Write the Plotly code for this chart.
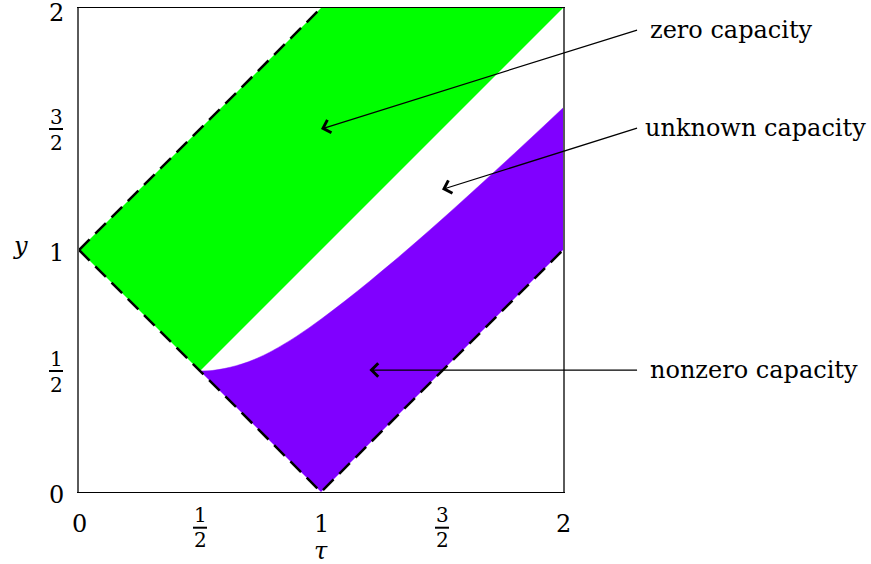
import plotly.graph_objects as go

# ---- region data (tau on x, y on y) ----
zero_tau = [0, 1, 2, 0.5, 0]
zero_y = [1, 2, 2, 0.5, 1]

# lower dashed boundary of the nonzero region
lower_tau = [0.5, 1, 2]
lower_y = [0.5, 0, 1]

# curved upper boundary of the nonzero region, from (1/2, 1/2) to tau = 2
curve_tau = [0.50, 0.55, 0.60, 0.65, 0.70, 0.75, 0.80, 0.90, 1.00, 1.10, 1.20,
             1.30, 1.40, 1.50, 1.60, 1.70, 1.80, 1.90, 2.00]
curve_y = [0.500, 0.502, 0.510, 0.522, 0.538, 0.559, 0.584, 0.644, 0.714, 0.790, 0.870,
           0.953, 1.039, 1.127, 1.217, 1.308, 1.400, 1.493, 1.587]

# dashed boundary lines
dash_top_tau = [0, 1]
dash_top_y = [1, 2]
dash_bot_tau = [0, 0.5, 1, 2]
dash_bot_y = [1, 0.5, 0, 1]

# tick labels: (value, numerator, denominator or None)
ticks = [(0, "0", None), (0.5, "1", "2"), (1, "1", None), (1.5, "3", "2"), (2, "2", None)]

# callouts: label, head (tau, y), tail (tau, y), padding
callouts = [
    ("zero capacity", (1.0, 1.5), (2.306, 1.909), 12),
    ("unknown capacity", (1.5, 1.25), (2.306, 1.504), 7),
    ("nonzero capacity", (1.2, 0.504), (2.306, 0.504), 12),
]

FONT = "DejaVu Serif"
GREEN = "#00ff00"
PURPLE = "#8000ff"

fig = go.Figure()

fig.add_trace(go.Scatter(x=zero_tau, y=zero_y, mode="lines", fill="toself",
                         fillcolor=GREEN, line=dict(width=0, color=GREEN),
                         hoverinfo="skip", showlegend=False))

# nonzero region: filled between the lower boundary and the smooth upper curve
fig.add_trace(go.Scatter(x=lower_tau, y=lower_y, mode="lines",
                         line=dict(width=0, color=PURPLE),
                         hoverinfo="skip", showlegend=False))
fig.add_trace(go.Scatter(x=curve_tau, y=curve_y, mode="lines", fill="tonexty",
                         fillcolor=PURPLE,
                         line=dict(width=0.5, color=PURPLE, shape="spline", smoothing=1),
                         hoverinfo="skip", showlegend=False))

for tx, ty in [(dash_top_tau, dash_top_y), (dash_bot_tau, dash_bot_y)]:
    fig.add_trace(go.Scatter(x=tx, y=ty, mode="lines",
                             line=dict(color="black", width=2.5, dash="15px,8px"),
                             hoverinfo="skip", showlegend=False))

annotations = []
shapes = []
PLOT_PX = 484.0

for val, num, den in ticks:
    if den is None:
        # x-axis integer label
        annotations.append(dict(x=val, xref="x", y=0, yref="paper", text=num,
                                showarrow=False, yanchor="middle", yshift=-32,
                                font=dict(family=FONT, size=24, color="black")))
        # y-axis integer label (top one nudged to stay inside the page)
        annotations.append(dict(x=0, xref="paper", y=val, yref="y", text=num,
                                showarrow=False, xanchor="center", xshift=-23,
                                yshift=-5 if val == 2 else -3, borderpad=0,
                                font=dict(family=FONT, size=24, color="black")))
    else:
        for shift, t in [(-23, num), (-48, den)]:
            annotations.append(dict(x=val, xref="x", y=0, yref="paper", text=t,
                                    showarrow=False, yanchor="middle", yshift=shift,
                                    font=dict(family=FONT, size=20, color="black")))
        shapes.append(dict(type="line", xref="x", yref="paper",
                           x0=val - 0.029, x1=val + 0.029,
                           y0=-35.7 / PLOT_PX, y1=-35.7 / PLOT_PX,
                           line=dict(color="black", width=2)))
        for shift, t in [(12, num), (-14, den)]:
            annotations.append(dict(x=0, xref="paper", y=val, yref="y", text=t,
                                    showarrow=False, xanchor="center", xshift=-23,
                                    yshift=shift,
                                    font=dict(family=FONT, size=20, color="black")))
        shapes.append(dict(type="line", xref="paper", yref="y",
                           x0=-30 / PLOT_PX, x1=-16 / PLOT_PX,
                           y0=val, y1=val,
                           line=dict(color="black", width=2)))

# axis titles
annotations.append(dict(x=1, xref="x", y=0, yref="paper", text="<i>τ</i>",
                        showarrow=False, yanchor="middle", yshift=-59,
                        font=dict(family=FONT, size=24, color="black")))
annotations.append(dict(x=0, xref="paper", y=1, yref="y", text="<i>y</i>",
                        showarrow=False, xanchor="center", xshift=-59, yshift=4,
                        font=dict(family=FONT, size=24, color="black")))

for label, (hx, hy), (tx, ty), pad in callouts:
    annotations.append(dict(x=hx, y=hy, xref="x", yref="y",
                            ax=tx, ay=ty, axref="x", ayref="y",
                            text=label, showarrow=True, xanchor="left",
                            borderpad=pad, arrowhead=4, arrowsize=2.0,
                            arrowwidth=1.3, arrowcolor="black",
                            font=dict(family=FONT, size=24, color="black")))

fig.update_layout(
    width=871, height=564,
    margin=dict(l=79, r=308, t=8, b=72),
    paper_bgcolor="white", plot_bgcolor="white",
    showlegend=False,
    xaxis=dict(range=[0, 2], showgrid=False, zeroline=False, showticklabels=False,
               ticks="", showline=True, mirror=True, linecolor="black", linewidth=1.2),
    yaxis=dict(range=[0, 2], showgrid=False, zeroline=False, showticklabels=False,
               ticks="", showline=True, mirror=True, linecolor="#5a5a5a", linewidth=2),
    annotations=annotations,
    shapes=shapes,
)

fig.write_html("out.html")
